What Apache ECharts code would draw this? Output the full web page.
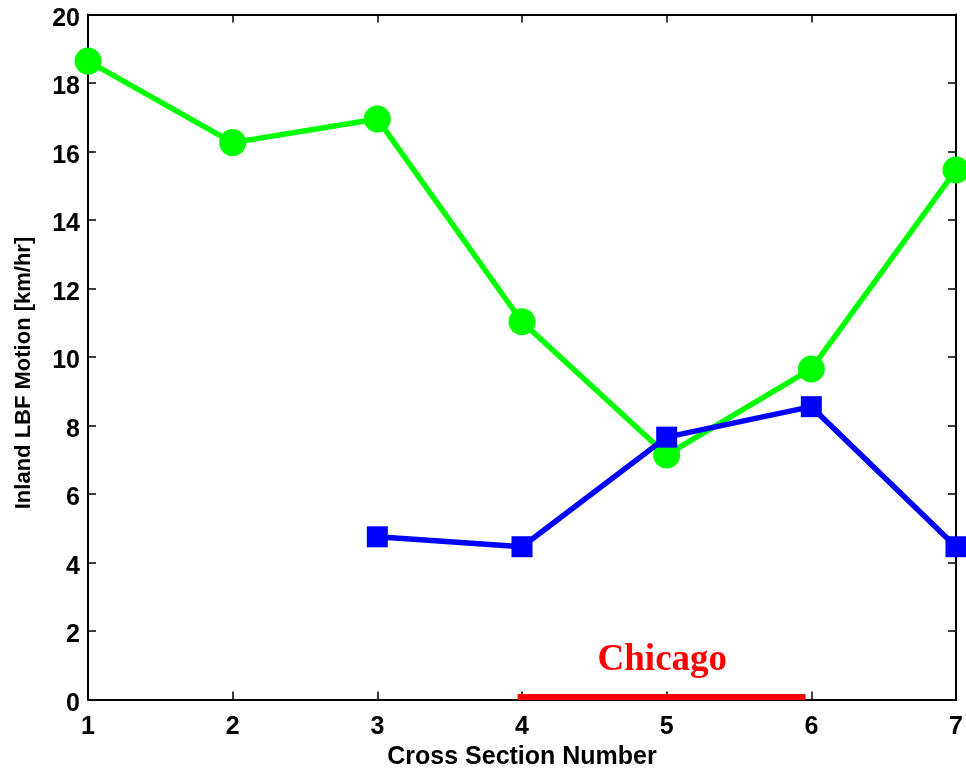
<!DOCTYPE html>
<html>
<head>
<meta charset="utf-8">
<script src="https://cdn.jsdelivr.net/npm/echarts@6/dist/echarts.min.js"></script>
<style>
  html, body { margin: 0; padding: 0; background: #fff; }
  #chart { width: 966px; height: 772px; }
</style>
</head>
<body>
<div id="chart"></div>
<script>
// values
var sections = [1, 2, 3, 4, 5, 6, 7];
var greenValues = [18.64, 16.26, 16.95, 11.03, 7.14, 9.65, 15.46];
var blueSections = [3, 4, 5, 6, 7];
var blueValues = [4.75, 4.46, 7.66, 8.55, 4.46];
var chicagoSpan = [3.97, 5.96];
var chicagoLevel = 0.07;
var chicagoLabelPos = [4.97, 1.15];

function pairs(xs, ys) {
    var out = [];
    for (var i = 0; i < xs.length; i++) {
        out.push([xs[i], ys[i]]);
    }
    return out;
}

var dom = document.getElementById('chart');
var myChart = echarts.init(dom, null, { renderer: 'canvas' });

var axisLine = { show: true, onZero: false, lineStyle: { color: '#000', width: 2 } };
var tickIn = { show: true, inside: true, length: 8, lineStyle: { color: '#000', width: 1.5 } };
var labelFont = { color: '#000', fontFamily: 'Liberation Sans', fontWeight: 'bold', fontSize: 25 };

var option = {
    backgroundColor: '#fff',
    animation: false,
    grid: {
        left: 88, right: 10, top: 14.5, bottom: 72.5,
        containLabel: false, outerBoundsMode: 'none'
    },
    // y axis title sits a bit below the middle of the axis in the original
    graphic: [
        {
            type: 'text', x: 24, y: 373, rotation: Math.PI / 2,
            style: {
                text: 'Inland LBF Motion [km/hr]', fill: '#000',
                font: 'bold 22px "Liberation Sans"', align: 'center', verticalAlign: 'middle'
            }
        }
    ],
    xAxis: [
        {
            type: 'value', min: 1, max: 7, interval: 1,
            name: 'Cross Section Number', nameLocation: 'middle', nameGap: 43,
            nameTextStyle: { color: '#000', fontFamily: 'Liberation Sans', fontWeight: 'bold', fontSize: 25 },
            axisLine: axisLine, axisTick: tickIn,
            axisLabel: Object.assign({ margin: 15 }, labelFont),
            splitLine: { show: false }
        },
        {
            type: 'value', min: 1, max: 7, interval: 1, position: 'top',
            axisLine: axisLine, axisTick: tickIn,
            axisLabel: { show: false }, splitLine: { show: false }
        }
    ],
    yAxis: [
        {
            type: 'value', min: 0, max: 20, interval: 2,
            axisLine: axisLine, axisTick: tickIn,
            axisLabel: {
                margin: 8,
                formatter: function (v) { return '{a|' + v + '}'; },
                rich: {
                    a: Object.assign({ padding: [9, 0, 0, 0] }, labelFont)
                }
            },
            splitLine: { show: false }
        },
        {
            type: 'value', min: 0, max: 20, interval: 2, position: 'right',
            axisLine: axisLine, axisTick: tickIn,
            axisLabel: { show: false }, splitLine: { show: false }
        }
    ],
    series: [
        {
            name: 'green', type: 'line',
            data: pairs(sections, greenValues),
            symbol: 'circle', symbolSize: 27,
            lineStyle: { color: '#00ff00', width: 5.5 },
            itemStyle: { color: '#00ff00' },
            clip: false, z: 3
        },
        {
            name: 'blue', type: 'line',
            data: pairs(blueSections, blueValues),
            symbol: 'rect', symbolSize: 21,
            lineStyle: { color: '#0000ff', width: 5.5 },
            itemStyle: { color: '#0000ff' },
            clip: false, z: 4
        },
        {
            name: 'chicago', type: 'line',
            data: [[chicagoSpan[0], chicagoLevel], [chicagoSpan[1], chicagoLevel]],
            symbol: 'none',
            lineStyle: { color: '#ff0000', width: 6, cap: 'butt' },
            z: 5
        },
        {
            name: 'chicagoLabel', type: 'scatter',
            data: [chicagoLabelPos],
            symbolSize: 0,
            itemStyle: { color: '#ff0000', opacity: 1 },
            label: {
                show: true, position: 'inside', formatter: 'Chicago',
                color: '#ff0000', textBorderWidth: 0,
                fontFamily: 'Liberation Serif', fontWeight: 'bold', fontSize: 37
            },
            z: 6
        }
    ]
};

myChart.setOption(option);
window.addEventListener('resize', myChart.resize);
</script>
</body>
</html>
